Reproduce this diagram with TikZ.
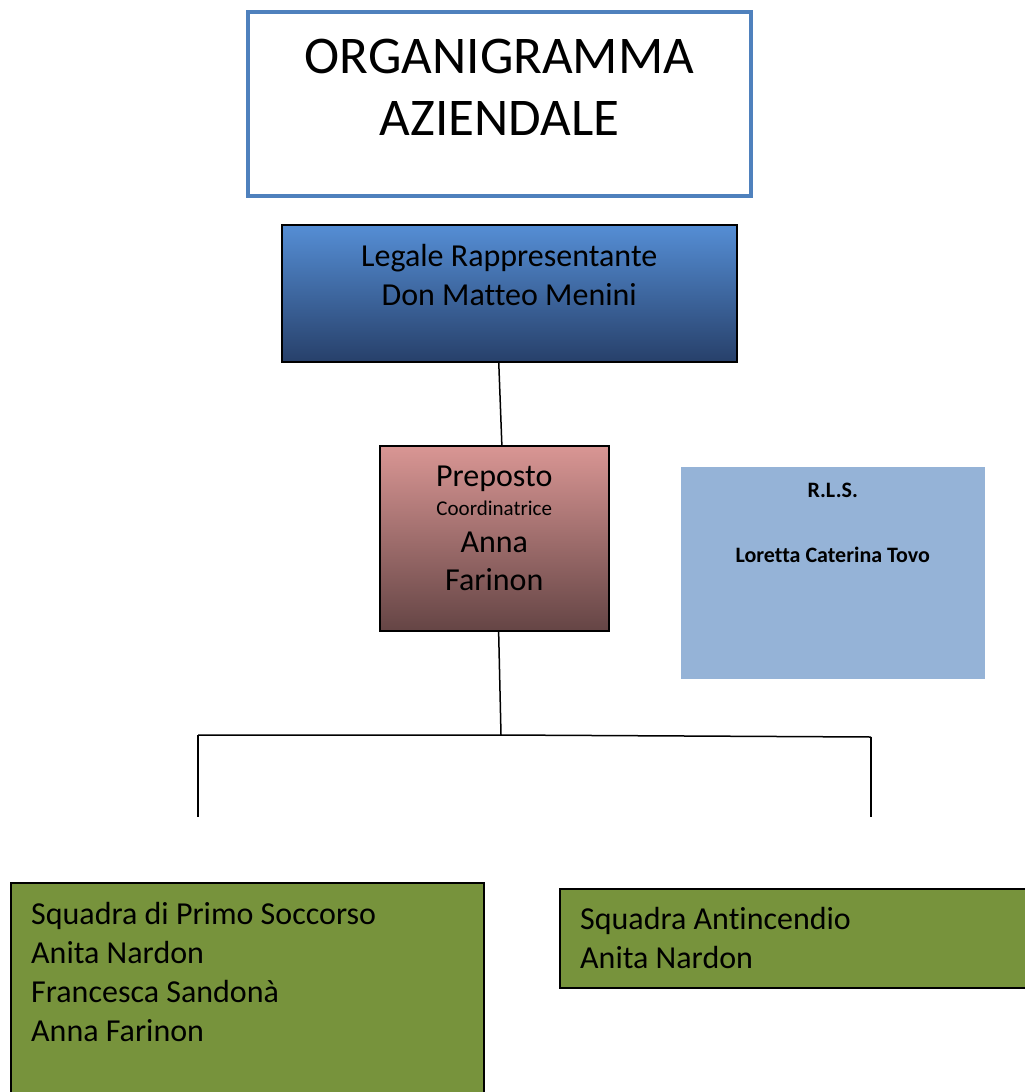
\documentclass[tikz,border=0pt]{standalone}
\usepackage{fontspec}
\setmainfont{Carlito}[Ligatures=NoCommon]
\usepackage{xcolor}
\usetikzlibrary{positioning,calc}
\definecolor{titleblue}{HTML}{4F81BD}
\definecolor{legaltop}{HTML}{558ED5}
\definecolor{legalbot}{HTML}{27406A}
\definecolor{preptop}{HTML}{D99694}
\definecolor{prepbot}{HTML}{654545}
\definecolor{rlsblue}{HTML}{95B3D7}
\definecolor{teamgreen}{HTML}{77933C}

\begin{document}
\begin{tikzpicture}[x=1pt,y=-1pt,
	box/.style={draw=black,line width=1.5pt,inner sep=0pt,anchor=north west},
	bigtxt/.style={inner sep=0pt,font=\fontsize{32}{39}\selectfont},
	link/.style={draw=black,line width=1.5pt}]
	\useasboundingbox (0,0) rectangle (1025,1092);
	% boxes
	\node[box,draw=titleblue,line width=4pt,fill=white,minimum width=503pt,minimum height=184pt] (title) at (246,10) {};
	\node[box,top color=legaltop,bottom color=legalbot,minimum width=455pt,minimum height=137pt] (legal) at (281,224) {};
	\node[box,top color=preptop,bottom color=prepbot,minimum width=229pt,minimum height=185pt] (prep) at (379,445) {};
	\node[box,draw=none,fill=rlsblue,minimum width=304pt,minimum height=212pt] (rls) at (680,466) {};
	\node[box,fill=teamgreen,minimum width=473pt,minimum height=240pt] (aid) at (10,882) {};
	\node[box,fill=teamgreen,minimum width=480pt,minimum height=99pt] (fire) at (559,888) {};
	% texts
	\node[inner sep=0pt,align=center,font=\fontsize{53}{62}\selectfont,anchor=north,below=29pt of title.north] (titletxt) {ORGANIGRAMMA\\AZIENDALE};
	\node[bigtxt,align=center,anchor=north,below=20.5pt of legal.north] (legaltxt) {Legale Rappresentante\\Don Matteo Menini};
	\node[bigtxt,align=center,anchor=north,below=21pt of prep.north] (preptxt) {Preposto\\[-10pt]{\fontsize{21}{28}\selectfont Coordinatrice}\\[-2pt]Anna\\[-1pt]Farinon};
	\node[inner sep=0pt,align=center,font=\fontsize{22}{27}\bfseries,anchor=north,below=17pt of rls.north] (rlstxt) {R.L.S.\\[38pt]Loretta Caterina Tovo};
	\node[bigtxt,align=left,anchor=north west] (aidtxt) at ($(aid.north west)+(21,20.5)$) {Squadra di Primo Soccorso\\Anita Nardon\\Francesca Sandonà\\Anna Farinon};
	\node[bigtxt,align=left,anchor=north west] (firetxt) at ($(fire.north west)+(21,19.5)$) {Squadra Antincendio\\Anita Nardon};
	% connectors
	\coordinate (fork) at (501,735);
	\coordinate (forkl) at (198,735);
	\coordinate (forkr) at (871,737);
	\coordinate (legl) at (198,817);
	\coordinate (legr) at (871,817);
	\path[link] ($(legal.south west)!0.477!(legal.south east)$) -- ($(prep.north west)!0.533!(prep.north east)$);
	\path[link] ($(prep.south west)!0.519!(prep.south east)$) -- (fork);
	\path[link] (forkl) -- (fork) -- (forkr);
	\path[link] (forkl) -- (legl);
	\path[link] (forkr) -- (legr);
\end{tikzpicture}
\end{document}
